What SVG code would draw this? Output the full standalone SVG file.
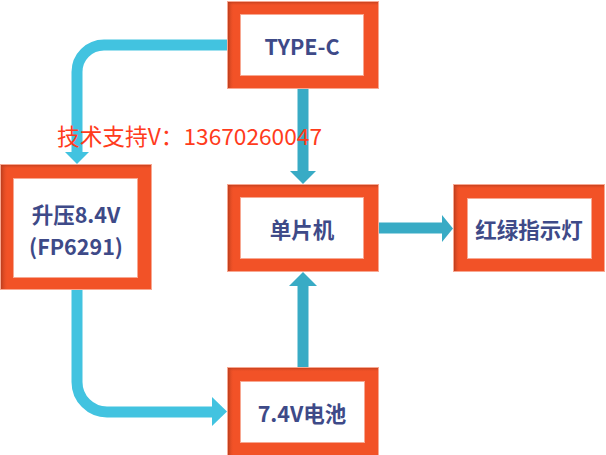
<svg xmlns="http://www.w3.org/2000/svg" width="606" height="455" viewBox="0 0 606 455">
<defs>
<linearGradient id="shL" x1="0" y1="0" x2="1" y2="0"><stop offset="0" stop-color="#a8361a" stop-opacity="0.75"/><stop offset="1" stop-color="#f25227" stop-opacity="0"/></linearGradient>
<linearGradient id="shT" x1="0" y1="0" x2="0" y2="1"><stop offset="0" stop-color="#a8361a" stop-opacity="0.6"/><stop offset="1" stop-color="#f25227" stop-opacity="0"/></linearGradient>
</defs>
<style>
.outer{fill:#f25227;stroke:#f8a892;stroke-width:1}
.inner{fill:#ffffff;stroke:#f7a892;stroke-width:1}
.lbl{font-family:"Noto Sans CJK SC","Noto Sans",sans-serif;font-weight:bold;font-size:21.5px;fill:#3e4a88;text-anchor:middle;dominant-baseline:central}
.lite{fill:none;stroke:#42c3e0;stroke-width:11}
.dark{fill:none;stroke:#38abc5;stroke-width:11}
.liteh{fill:#42c3e0}
.darkh{fill:#38abc5}
.note{font-family:"Noto Sans CJK SC","Noto Sans",sans-serif;font-size:22.5px;fill:#ff3b1c}
</style>
<g id="connectors">
<path class="lite" d="M228,45 H104 A27,27 0 0 0 77,72 V153"/>
<polygon class="liteh" points="65,152 89,152 77,164"/>
<path class="lite" d="M77,290 V382 A30,30 0 0 0 107,412 H213"/>
<polygon class="liteh" points="212,397 212,426 227,411.5"/>
<path class="dark" d="M303,89 V172"/>
<polygon class="darkh" points="290,171 316,171 303,184"/>
<path class="dark" d="M303,367 V284"/>
<polygon class="darkh" points="289,286 317,286 303,272"/>
<path class="dark" d="M378,228 H443"/>
<polygon class="darkh" points="442,215 442,242 453,228.5"/>
</g>
<g id="typec">
<rect class="outer" x="227.5" y="1.5" width="151" height="87"/>
<rect x="228" y="2" width="6" height="86" fill="url(#shL)"/>
<rect x="228" y="2" width="150" height="4" fill="url(#shT)"/>
<rect class="inner" x="240.5" y="14.5" width="123" height="61"/>
<text class="lbl" x="302" y="45">TYPE-C</text>
</g>
<g id="boost">
<rect class="outer" x="0.5" y="164.5" width="151" height="125"/>
<rect x="1" y="165" width="7" height="124" fill="url(#shL)"/>
<rect x="1" y="165" width="150" height="4" fill="url(#shT)"/>
<rect class="inner" x="13.5" y="178.5" width="124" height="99"/>
<text class="lbl" x="76" y="213">升压8.4V</text>
<text class="lbl" x="76" y="245">(FP6291)</text>
</g>
<g id="mcu">
<rect class="outer" x="227.5" y="184.5" width="151" height="87"/>
<rect x="228" y="185" width="6" height="86" fill="url(#shL)"/>
<rect x="228" y="185" width="150" height="4" fill="url(#shT)"/>
<rect class="inner" x="240.5" y="197.5" width="123" height="61"/>
<text class="lbl" x="302" y="228">单片机</text>
</g>
<g id="led">
<rect class="outer" x="453.5" y="184.5" width="151" height="87"/>
<rect x="454" y="185" width="6" height="86" fill="url(#shL)"/>
<rect x="454" y="185" width="150" height="4" fill="url(#shT)"/>
<rect class="inner" x="467.5" y="198.5" width="124" height="60"/>
<text class="lbl" x="529" y="228">红绿指示灯</text>
</g>
<g id="battery">
<rect class="outer" x="227.5" y="367.5" width="151" height="88"/>
<rect x="228" y="368" width="6" height="87" fill="url(#shL)"/>
<rect x="228" y="368" width="150" height="4" fill="url(#shT)"/>
<rect class="inner" x="240.5" y="381.5" width="124" height="61"/>
<text class="lbl" x="302" y="412">7.4V电池</text>
</g>
<text class="note" x="57" y="145" textLength="265" lengthAdjust="spacingAndGlyphs">技术支持V：13670260047</text>
</svg>
